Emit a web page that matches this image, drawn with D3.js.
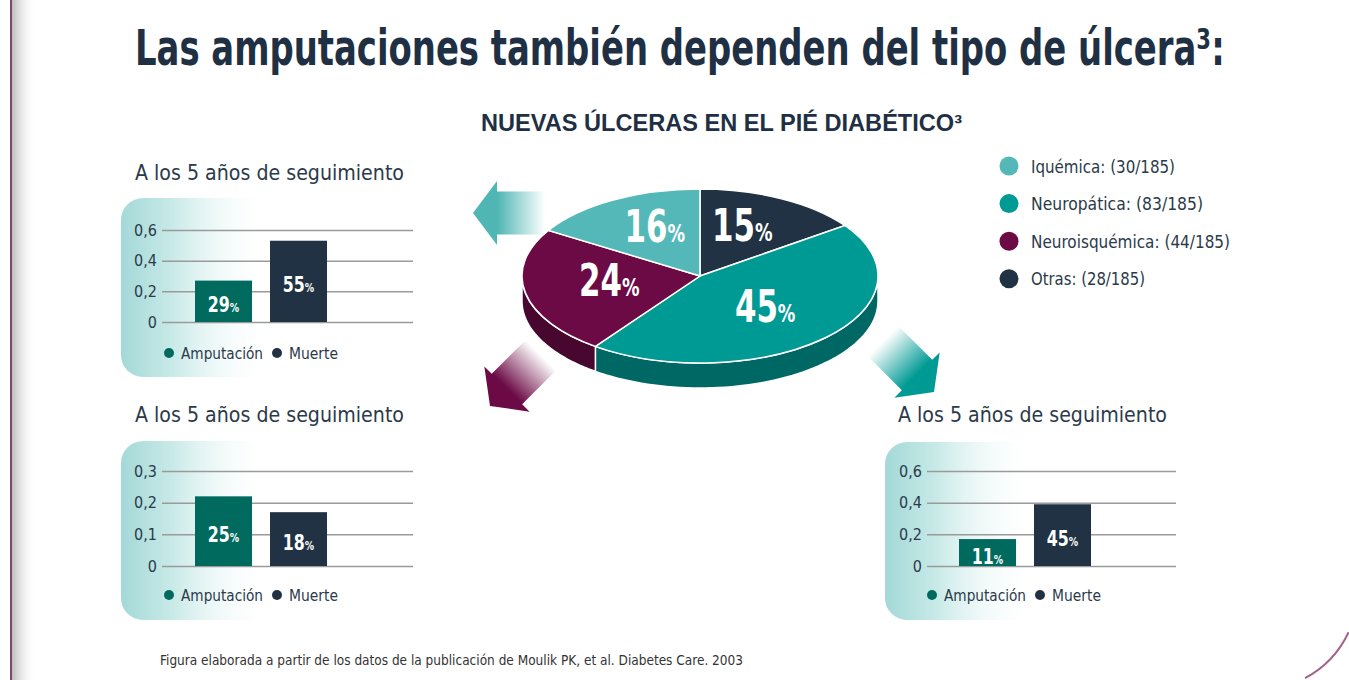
<!DOCTYPE html>
<html>
<head>
<meta charset="utf-8">
<script src="https://cdn.jsdelivr.net/npm/d3@7"></script>
<style>
  body { margin: 0; background: #fff; }
  svg { display: block; }
</style>
</head>
<body>
<svg id="chart" width="1349" height="680"></svg>
<script>
// ---- data ----
const pieCategories = ["Iquémica", "Neuropática", "Neuroisquémica", "Otras"];
const pieCounts = [30, 83, 44, 28];
const pieTotal = 185;
const pieLabels = ["16", "45", "24", "15"];
const pieOrder = [3, 1, 2, 0]; // clockwise from 12 o'clock

const barSeries = ["Amputación", "Muerte"];

const panel1Values = [0.27, 0.53];
const panel1Labels = ["29", "55"];
const panel1Ticks = [0, 0.2, 0.4, 0.6];

const panel2Values = [0.22, 0.17];
const panel2Labels = ["25", "18"];
const panel2Ticks = [0, 0.1, 0.2, 0.3];

const panel3Values = [0.17, 0.39];
const panel3Labels = ["11", "45"];
const panel3Ticks = [0, 0.2, 0.4, 0.6];

// ---- styles ----
const narrow = "'Liberation Sans Narrow', 'DejaVu Sans Condensed', 'DejaVu Sans', sans-serif";
const navy = "#1f3044";
const textCol = "#2b3a4a";
const pieColors = ["#55b8b8", "#009a94", "#6b0a45", "#213244"];
const barColors = ["#006a5e", "#213244"];

// squeeze a text to a measured width (no condensed font installed)
function fit(sel, w) {
  sel.attr("textLength", w).attr("lengthAdjust", "spacingAndGlyphs");
  return sel;
}

const svg = d3.select("#chart");
const defs = svg.append("defs");

// left page border with shadow
const shadow = defs.append("linearGradient").attr("id", "shadowGrad");
shadow.append("stop").attr("offset", 0).attr("stop-color", "#bdbdbd");
shadow.append("stop").attr("offset", 1).attr("stop-color", "#fff").attr("stop-opacity", 0);
svg.append("rect").attr("x", 12).attr("y", 0).attr("width", 24).attr("height", 680).attr("fill", "url(#shadowGrad)");
svg.append("line").attr("x1", 11).attr("x2", 11).attr("y1", 0).attr("y2", 680)
  .attr("stroke", "#7a4a68").attr("stroke-width", 2);

// bottom-right rounded corner
const corner = d3.path();
corner.arc(1258, 590, 100, Math.atan2(42, 90), Math.atan2(88, 47));
svg.append("path").attr("d", corner.toString()).attr("fill", "none")
  .attr("stroke", "#a0628a").attr("stroke-width", 2);

// title: condensed by a horizontal scale so that it keeps inside the page
const title = svg.append("text")
  .attr("font-family", narrow).attr("font-weight", "bold").attr("font-size", 36)
  .attr("fill", navy)
  .text("Las amputaciones también dependen del tipo de úlcera³:");
const titleW = title.node().getComputedTextLength();
title.attr("transform", `translate(135,65) scale(${1090 / titleW},1.39)`);

fit(svg.append("text")
  .attr("x", 481).attr("y", 131)
  .attr("font-family", "'Liberation Sans', Arial, sans-serif").attr("font-weight", "bold").attr("font-size", 23)
  .attr("fill", navy)
  .text("NUEVAS ÚLCERAS EN EL PIÉ DIABÉTICO³"), 481);

// ---- arrows ----
function arrowGrad(id, color) {
  const g = defs.append("linearGradient").attr("id", id)
    .attr("gradientUnits", "userSpaceOnUse").attr("x1", 0).attr("x2", 72).attr("y1", 0).attr("y2", 0);
  g.append("stop").attr("offset", 0).attr("stop-color", color);
  g.append("stop").attr("offset", 0.34).attr("stop-color", color);
  g.append("stop").attr("offset", 1).attr("stop-color", color).attr("stop-opacity", 0);
}
arrowGrad("arrTeal", "#4fb6b4");
arrowGrad("arrPurple", "#6b0a45");
arrowGrad("arrGreen", "#009a94");
const arrowShape = [[0, 0], [24, -32], [24, -21.5], [72, -21.5], [72, 21.5], [24, 21.5], [24, 32]];
const arrowLine = d3.line();
const arrows = [
  { tip: [473, 213], angle: 0, fill: "url(#arrTeal)" },
  { tip: [490, 406], angle: -45, fill: "url(#arrPurple)" },
  { tip: [934, 392], angle: -135, fill: "url(#arrGreen)" }
];
svg.selectAll(".arrow").data(arrows).enter().append("path")
  .attr("class", "arrow")
  .attr("d", arrowLine(arrowShape) + "Z")
  .attr("transform", d => `translate(${d.tip[0]},${d.tip[1]}) rotate(${d.angle})`)
  .attr("fill", d => d.fill);

// ---- 3D pie ----
const cx = 700, cy = 276, rx = 178, ry = 87, depth = 25;
const pieData = pieOrder.map(i => ({ i, value: pieCounts[i] }));
const arcs = d3.pie().sort(null).value(d => d.value)(pieData);
const ex = a => cx + rx * Math.sin(a);
const ey = a => cy - ry * Math.cos(a);

const pieG = svg.append("g");
// sides
arcs.forEach(a => {
  const s = Math.max(a.startAngle, Math.PI / 2), e = Math.min(a.endAngle, 3 * Math.PI / 2);
  if (s >= e) return;
  const pts = [];
  const n = 60;
  for (let k = 0; k <= n; k++) { const t = s + (e - s) * k / n; pts.push([ex(t), ey(t)]); }
  for (let k = n; k >= 0; k--) { const t = s + (e - s) * k / n; pts.push([ex(t), ey(t) + depth]); }
  pieG.append("path")
    .attr("d", d3.line()(pts) + "Z")
    .attr("fill", d3.color(pieColors[a.data.i]).darker(1.1))
    .attr("stroke", "#fff").attr("stroke-width", 1.5);
});
// top
const arcGen = d3.arc().innerRadius(0).outerRadius(rx);
pieG.append("g")
  .attr("transform", `translate(${cx},${cy}) scale(1,${ry / rx})`)
  .selectAll("path").data(arcs).enter().append("path")
  .attr("d", arcGen)
  .attr("fill", d => pieColors[d.data.i])
  .attr("stroke", "#fff").attr("stroke-width", 1.5)
  .attr("vector-effect", "non-scaling-stroke");
// labels
arcs.forEach(a => {
  const m = (a.startAngle + a.endAngle) / 2;
  const lx = cx + rx * 0.52 * Math.sin(m);
  const ly = cy - ry * 0.58 * Math.cos(m) + 10;
  const t = pieG.append("text")
    .attr("transform", `translate(${lx},${ly}) scale(0.78,1)`)
    .attr("text-anchor", "middle")
    .attr("font-family", narrow).attr("font-weight", "bold").attr("fill", "#fff");
  t.append("tspan").attr("font-size", 44).text(pieLabels[a.data.i]);
  t.append("tspan").attr("font-size", 25).text("%");
});

// pie legend
const pieLegWidths = [144, 172, 199, 114];
const pieLeg = svg.append("g").selectAll("g").data(pieCategories).enter().append("g")
  .attr("transform", (d, i) => `translate(1009,${166 + i * 37.6})`);
pieLeg.append("circle").attr("r", 9.5).attr("fill", (d, i) => pieColors[i]);
pieLeg.append("text").attr("x", 22).attr("y", 6.5)
  .attr("font-family", narrow).attr("font-size", 18).attr("fill", textCol)
  .attr("textLength", (d, i) => pieLegWidths[i]).attr("lengthAdjust", "spacingAndGlyphs")
  .text((d, i) => `${d}: (${pieCounts[i]}/${pieTotal})`);

// ---- bar panels ----
const panelGrad = defs.append("linearGradient").attr("id", "panelGrad");
panelGrad.append("stop").attr("offset", 0).attr("stop-color", "#a3d9d7");
panelGrad.append("stop").attr("offset", 0.35).attr("stop-color", "#c9eae8");
panelGrad.append("stop").attr("offset", 1).attr("stop-color", "#fff").attr("stop-opacity", 0);

const esLocale = d3.formatLocale({ decimal: ",", thousands: ".", grouping: [3], currency: ["", "€"] });
const tickFmt = d => d === 0 ? "0" : esLocale.format(".1f")(d);
const legWidths = [82, 49];

function drawPanel(p) {
  const g = svg.append("g");
  g.append("rect").attr("x", p.bgX).attr("y", p.bgY).attr("width", 150).attr("height", p.bgH)
    .attr("rx", 22).attr("fill", "url(#panelGrad)");
  fit(g.append("text").attr("x", p.titleX).attr("y", p.titleY)
    .attr("font-family", narrow).attr("font-size", 22).attr("fill", textCol)
    .text("A los 5 años de seguimiento"), 269);

  const y = d3.scaleLinear().domain([0, d3.max(p.ticks)]).range([p.y0, p.yTop]);
  const x = d3.scaleBand().domain(barSeries).range(p.barRange).paddingInner(0.24).paddingOuter(0);

  const axis = g.append("g").attr("transform", `translate(${p.gx0},0)`)
    .call(d3.axisLeft(y).tickValues(p.ticks).tickFormat(tickFmt)
      .tickSizeInner(-(p.gx1 - p.gx0)).tickSizeOuter(0).tickPadding(5));
  axis.select(".domain").remove();
  axis.selectAll(".tick line").attr("stroke", "#9a9a9a").attr("stroke-width", 1.5);
  axis.selectAll(".tick text").attr("font-family", narrow).attr("font-size", 16).attr("fill", textCol);

  g.selectAll(".bar").data(p.values).enter().append("rect")
    .attr("x", (d, i) => x(barSeries[i]))
    .attr("y", d => y(d))
    .attr("width", x.bandwidth())
    .attr("height", d => y(0) - y(d))
    .attr("fill", (d, i) => barColors[i]);

  p.values.forEach((v, i) => {
    const bx = x(barSeries[i]) + x.bandwidth() / 2;
    const by = (y(0) + y(v)) / 2 + 11;
    const t = g.append("text")
      .attr("transform", `translate(${bx},${by}) scale(0.8,1)`)
      .attr("text-anchor", "middle")
      .attr("font-family", narrow).attr("font-weight", "bold").attr("fill", "#fff");
    t.append("tspan").attr("font-size", 22).text(p.labels[i]);
    t.append("tspan").attr("font-size", 13).text("%");
  });

  const leg = g.selectAll(".leg").data(barSeries).enter().append("g")
    .attr("transform", (d, i) => `translate(${p.legX + i * 108},${p.legY})`);
  leg.append("circle").attr("r", 5).attr("fill", (d, i) => barColors[i]);
  leg.append("text").attr("x", 12).attr("y", 5.5)
    .attr("font-family", narrow).attr("font-size", 16).attr("fill", textCol)
    .attr("textLength", (d, i) => legWidths[i]).attr("lengthAdjust", "spacingAndGlyphs")
    .text(d => d);
}

drawPanel({ values: panel1Values, labels: panel1Labels, ticks: panel1Ticks,
  bgX: 121, bgY: 198, bgH: 179, titleX: 135, titleY: 180,
  gx0: 162, gx1: 413, y0: 322, yTop: 230, barRange: [195, 327], legX: 169, legY: 353 });
drawPanel({ values: panel2Values, labels: panel2Labels, ticks: panel2Ticks,
  bgX: 121, bgY: 441, bgH: 179, titleX: 135, titleY: 422,
  gx0: 162, gx1: 413, y0: 566, yTop: 471, barRange: [195, 327], legX: 169, legY: 595 });
drawPanel({ values: panel3Values, labels: panel3Labels, ticks: panel3Ticks,
  bgX: 885, bgY: 442, bgH: 178, titleX: 898, titleY: 422,
  gx0: 927, gx1: 1176, y0: 566, yTop: 471, barRange: [959, 1091], legX: 932, legY: 595 });

// footnote
fit(svg.append("text").attr("x", 160).attr("y", 665)
  .attr("font-family", narrow).attr("font-size", 13.5).attr("fill", "#333")
  .text("Figura elaborada a partir de los datos de la publicación de Moulik PK, et al. Diabetes Care. 2003"), 583);
</script>
</body>
</html>
